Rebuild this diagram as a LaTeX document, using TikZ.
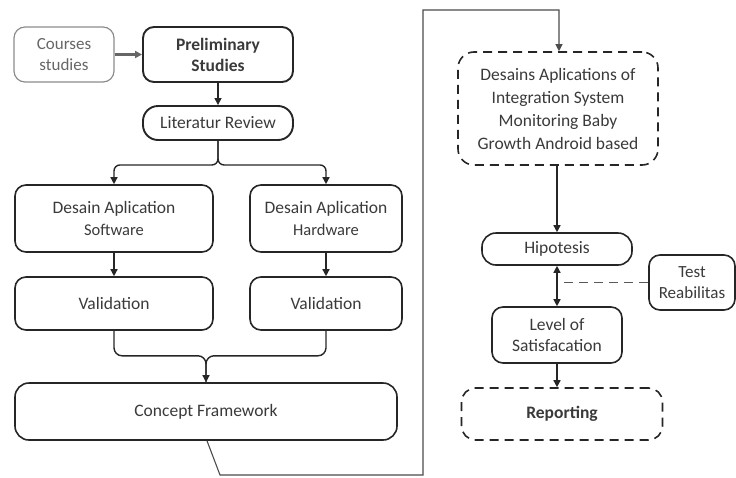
\documentclass[tikz,border=0pt]{standalone}
\usepackage{fontspec}
\setmainfont{Carlito}
\usetikzlibrary{arrows.meta}
\definecolor{txt}{HTML}{3A3A3A}
\tikzset{
  box/.style={draw=black!85, line width=1.6pt, rounded corners=11pt, align=center,
    text=txt, inner sep=0pt, font=\fontsize{17.5}{22}\selectfont},
  dbox/.style={box, dashed, dash pattern=on 9pt off 6pt},
  lbox/.style={box, draw=black!45, line width=1.2pt, text=black!60},
  conn/.style={draw=black!85, line width=1.4pt, -{Triangle[length=7pt,width=7pt]}},
  plain/.style={draw=black!85, line width=1.4pt}
}
\newcommand{\subline}[1]{{\fontsize{16.5}{22}\selectfont #1}}
\begin{document}
\begin{tikzpicture}[x=1pt,y=-1pt]
\useasboundingbox (0,0) rectangle (736,477);
\node[lbox, minimum width=100pt, minimum height=55pt, font=\fontsize{17}{21}\selectfont] (courses) at (64,54.5) {Courses\\studies};
\node[box, line width=1.9pt, minimum width=150pt, minimum height=55pt, font=\fontsize{17.5}{21}\selectfont\bfseries] (prelim) at (218,54.5) {Preliminary\\Studies};
\node[box, line width=1.9pt, minimum width=150pt, minimum height=34pt, rounded corners=15pt] (lit) at (218,123) {Literatur Review};
\node[box, minimum width=198pt, minimum height=67pt] (dsw) at (114,218.5) {Desain Aplication\\\subline{Software}};
\node[box, minimum width=152pt, minimum height=67pt] (dhw) at (326,218.5) {Desain Aplication\\\subline{Hardware}};
\node[box, minimum width=198pt, minimum height=53pt] (vsw) at (114,303.5) {Validation};
\node[box, minimum width=152pt, minimum height=53pt] (vhw) at (326,303.5) {Validation};
\node[box, minimum width=382pt, minimum height=57pt, rounded corners=14pt] (concept) at (206,411.5) {Concept Framework};
\node[dbox, minimum width=200pt, minimum height=113pt, rounded corners=16pt, font=\fontsize{17.5}{23}\selectfont] (des) at (558,108.5) {Desains Aplications of\\Integration System\\Monitoring Baby\\Growth Android based};
\node[box, minimum width=150pt, minimum height=32pt, rounded corners=14pt] (hip) at (557,249) {Hipotesis};
\node[box, minimum width=86pt, minimum height=55pt, font=\fontsize{17}{21}\selectfont] (test) at (692,282.5) {Test\\Reabilitas};
\node[box, minimum width=130pt, minimum height=56pt, font=\fontsize{17.5}{21}\selectfont] (level) at (557,335) {Level of\\Satisfacation};
\node[dbox, minimum width=201pt, minimum height=52pt, rounded corners=14pt, font=\fontsize{17.5}{21}\selectfont\bfseries] (rep) at (562,414) {Reporting};
% connectors
\draw[conn, draw=black!60, line width=2.2pt] (courses) -- (prelim);
\draw[conn] (prelim) -- (lit);
\draw[conn, rounded corners=6pt] (lit.south) -- ++(0,24) -| (dsw.north);
\draw[conn, rounded corners=6pt] (lit.south) -- ++(0,24) -| (dhw.north);
\draw[conn] (dsw) -- (vsw);
\draw[conn] (dhw) -- (vhw);
\draw[plain, rounded corners=8pt] (vsw.south) -- ++(0,25) -| (concept.north);
\draw[conn, rounded corners=8pt] (vhw.south) -- ++(0,25) -| (concept.north);
\coordinate (c1) at (220,475);
\coordinate (c2) at (423,475);
\coordinate (c3) at (423,10);
\coordinate (c4) at (559,10);
\draw[conn, draw=black!70, line width=1.1pt] ([xshift=1pt]concept.south) -- (c1) -- (c2) -- (c3) -- (c4) -- (des.north -| c4);
\draw[conn] (des.south -| hip.north) -- (hip.north);
\draw[plain, {Triangle[length=7pt,width=7pt]}-{Triangle[length=7pt,width=7pt]}] (hip.south) -- (level.north);
\coordinate (t1) at (559,282.5);
\draw[plain, dashed, dash pattern=on 9pt off 6pt, draw=black!65] (test.west) -- (t1);
\draw[conn] (level.south) -- (level.south |- rep.north);
\end{tikzpicture}
\end{document}
